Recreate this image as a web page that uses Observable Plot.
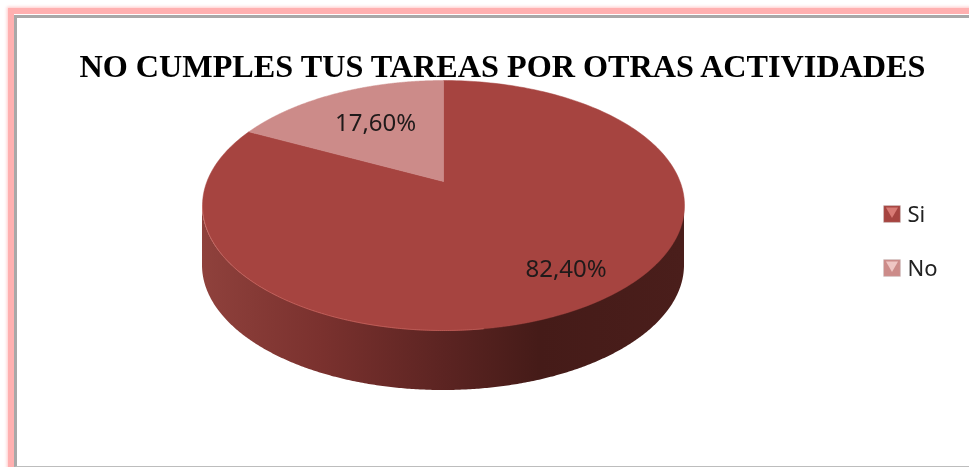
<!DOCTYPE html>
<html>
<head>
<meta charset="utf-8">
<script src="https://cdn.jsdelivr.net/npm/d3@7"></script>
<script src="https://cdn.jsdelivr.net/npm/@observablehq/plot@0.6"></script>
<style>
  html, body { margin: 0; padding: 0; background: #fff; }
  #stage { position: relative; width: 969px; height: 467px; overflow: hidden; background: #fff; }
  #pink { position: absolute; left: 8px; top: 8px; width: 1100px; height: 900px; box-sizing: border-box;
          border: 6px solid #ffb0b0; box-shadow: 0 0 3px 1px #ffc8c8; }
  #gray { position: absolute; left: 14px; top: 15px; width: 1100px; height: 452px; box-sizing: border-box;
          border: 3px solid #a8a8a8; border-bottom: 1.5px solid #bdbdbd; background: #fff; }
  #chart { position: absolute; left: 0; top: 0; }
  #chart svg { display: block; background: transparent; filter: blur(0.35px); }
</style>
</head>
<body>
<div id="stage">
  <div id="pink"></div>
  <div id="gray"></div>
  <div id="chart"></div>
</div>
<script>
// Data
const categories = ["Si", "No"];
const shares = [82.4, 17.6];
const valueLabels = ["82,40%", "17,60%"];
const sliceColors = ["#a64440", "#cc8b89"];
const chartTitle = "NO CUMPLES TUS TAREAS POR OTRAS ACTIVIDADES";

// Layout of the tilted pie, in pixels
const cx = 443, cy = 205, rx = 241, ry = 125, depth = 60, tilt = 0.192;
const labelReach = [0.85, 0.6];
const labelLift = [13, 2];

// Perspective projection of a point on the unit disc (angle clockwise from top)
function project(theta, r = 1) {
  const u = r * Math.sin(theta), v = r * Math.cos(theta);
  const d = 1 + tilt * v;
  return {
    x: cx + rx * u * Math.sqrt(1 - tilt * tilt) / d,
    y: cy - ry * (v + tilt) / d
  };
}

// Slices: Si runs clockwise from 12 o'clock, No closes the circle
const total = d3.sum(shares);
let running = 0;
const slices = categories.map((name, i) => {
  const a0 = running / total * 2 * Math.PI;
  running += shares[i];
  const a1 = running / total * 2 * Math.PI;
  return { name, a0, a1, mid: (a0 + a1) / 2, i };
});
const slicePoints = slices.flatMap(s => {
  const steps = d3.range(0, 241).map(k => s.a0 + (s.a1 - s.a0) * k / 240);
  return [project(0, 0), ...steps.map(t => project(t)), project(0, 0)].map(p => ({ ...p, name: s.name }));
});

// Wall: the front half of the rim, dropped by the pie's depth
const wall = d3.range(0, 361).map(k => {
  const t = Math.PI * k / 360;
  const y = cy + ry * Math.sin(t);
  return { x: cx - rx * Math.cos(t), y1: y, y2: y + depth };
});
const rim = wall.filter(d => d.x < cx + 40);

const labels = slices.map(s => {
  const p = project(s.mid, labelReach[s.i]);
  return { x: p.x, y: p.y - labelLift[s.i], text: valueLabels[s.i] };
});
const legend = categories.map((name, i) => ({ name, x: 891.5, y: 213.5 + i * 54, color: sliceColors[i], glint: i ? "#efc6c4" : "#d87a74" }));

const defs = () => {
  const d = d3.create("svg:defs");
  const g = d.append("linearGradient").attr("id", "wallShade");
  [[0, "#8f413c"], [0.25, "#7a312e"], [0.5, "#5c2422"], [0.7, "#451b18"], [1, "#4a1e1b"]]
    .forEach(([o, c]) => g.append("stop").attr("offset", o).attr("stop-color", c));
  return d.node();
};

const plot = Plot.plot({
  width: 969,
  height: 467,
  margin: 0,
  style: { background: "transparent" },
  x: { domain: [0, 969], range: [0, 969], axis: null },
  y: { domain: [0, 467], range: [0, 467], axis: null },
  color: { domain: categories, range: sliceColors },
  marks: [
    defs,
    Plot.areaY(wall, { x: "x", y1: "y1", y2: "y2", fill: "url(#wallShade)" }),
    Plot.line(slicePoints, { x: "x", y: "y", z: "name", fill: "name", stroke: "name", strokeWidth: 0.5 }),
    Plot.line(rim, { x: "x", y: "y1", stroke: "#c9655f", strokeWidth: 1, strokeOpacity: 0.7 }),
    Plot.text(labels, { x: "x", y: "y", text: "text", fontFamily: "Noto Sans", fontSize: 24, fill: "#1f1a1a" }),
    Plot.text([chartTitle], { x: () => 502, y: () => 66, fontFamily: "Liberation Serif", fontWeight: "bold", fontSize: 32.2, fill: "#000" }),
    Plot.dot(legend, { x: "x", y: "y", symbol: "square", r: 9.5, fill: "color", stroke: "#c9c2c2", strokeWidth: 0.5 }),
    Plot.dot(legend, { x: "x", y: "y", symbol: "triangle", r: 4.5, rotate: 180, fill: "glint", dy: -3 }),
    Plot.text(legend, { x: "x", y: "y", text: "name", dx: 15.5, dy: 1, textAnchor: "start", fontFamily: "Noto Sans", fontSize: 22, fill: "#222" })
  ]
});
document.getElementById("chart").appendChild(plot);
</script>
</body>
</html>
